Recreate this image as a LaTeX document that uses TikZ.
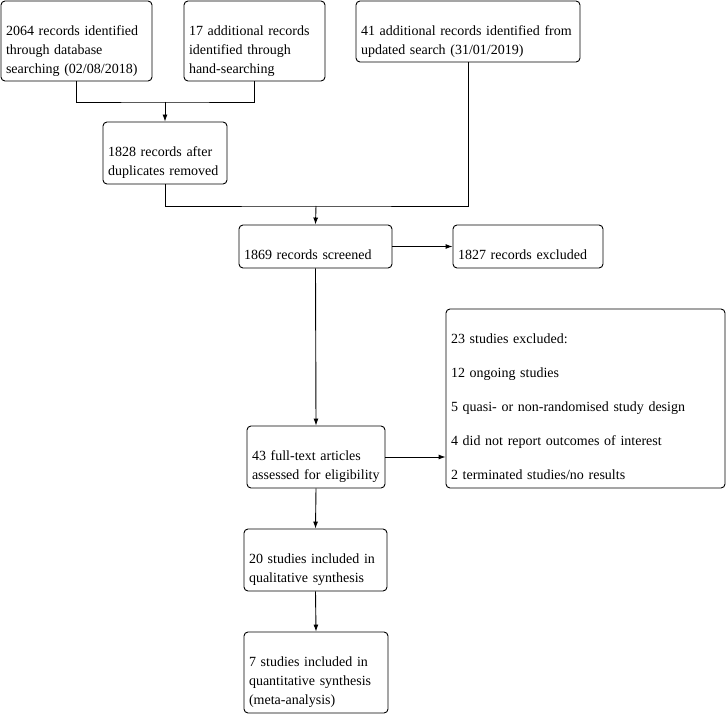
\documentclass[tikz,border=0pt]{standalone}
\usepackage{fontspec}
\setmainfont{Liberation Serif}
\usetikzlibrary{arrows.meta,calc}
\begin{document}
\begin{tikzpicture}[x=1pt,y=-1pt,
  box/.style={draw=black,line width=0.9pt,rounded corners=4pt,inner xsep=5pt,inner ysep=0pt,
    align=left,font=\fontsize{14}{19}\selectfont,anchor=center},
  conn/.style={draw=black,line width=0.9pt},
  arr/.style={conn,-{Latex[length=7pt,width=5pt]}}]
\useasboundingbox (0,0) rectangle (726,714);
\node[box,text width=141pt,minimum height=80pt] (A) at (76.5,41)
  {\strut\\2064 records identified\\through database\\searching (02/08/2018)\strut};
\node[box,text width=131pt,minimum height=80pt] (B) at (254.5,41)
  {\strut\\17 additional records\\identified through\\hand-searching\strut};
\node[box,text width=214pt,minimum height=61pt] (C) at (468,31.5)
  {\strut\\41 additional records identified from\\updated search (31/01/2019)\strut};
\node[box,text width=114pt,minimum height=62pt] (D) at (165,153)
  {\strut\\1828 records after\\duplicates removed\strut};
\node[box,text width=143pt,minimum height=43pt] (E) at (315.5,246.5)
  {\strut\\1869 records screened\strut};
\node[box,text width=140pt,minimum height=43pt] (F) at (528,246.5)
  {\strut\\1827 records excluded\strut};
\node[box,text width=269pt,minimum height=179pt] (G) at (585.5,398.5)
  {\strut\\23 studies excluded:\\[15pt]12 ongoing studies\\[15pt]5 quasi- or non-randomised study design\\[15pt]4 did not report outcomes of interest\\[15pt]2 terminated studies/no results\strut};
\node[box,text width=128pt,minimum height=62pt] (H) at (316,457)
  {\strut\\43 full-text articles\\assessed for eligibility\strut};
\node[box,text width=133pt,minimum height=62pt] (I) at (315.5,560)
  {\strut\\20 studies included in\\qualitative synthesis\strut};
\node[box,text width=134pt,minimum height=81pt] (J) at (316,672.5)
  {\strut\\7 studies included in\\quantitative synthesis\\(meta-analysis)\strut};
\coordinate (j1) at (165,102);
\coordinate (j2) at (316,206);
\draw[conn] (A.south) |- (j1) -| (B.south);
\draw[arr] (j1) -- (D.north);
\draw[conn] (D.south) |- (j2) -| (C.south);
\draw[arr] (j2) -- (E.north);
\draw[arr] (E.east) -- (F.west);
\draw[arr] (E.south) -- (H.north);
\draw[arr] (H.east) -- (H.east -| G.west);
\draw[arr] (H.south) -- (I.north);
\draw[arr] (I.south) -- (J.north);
\end{tikzpicture}
\end{document}
